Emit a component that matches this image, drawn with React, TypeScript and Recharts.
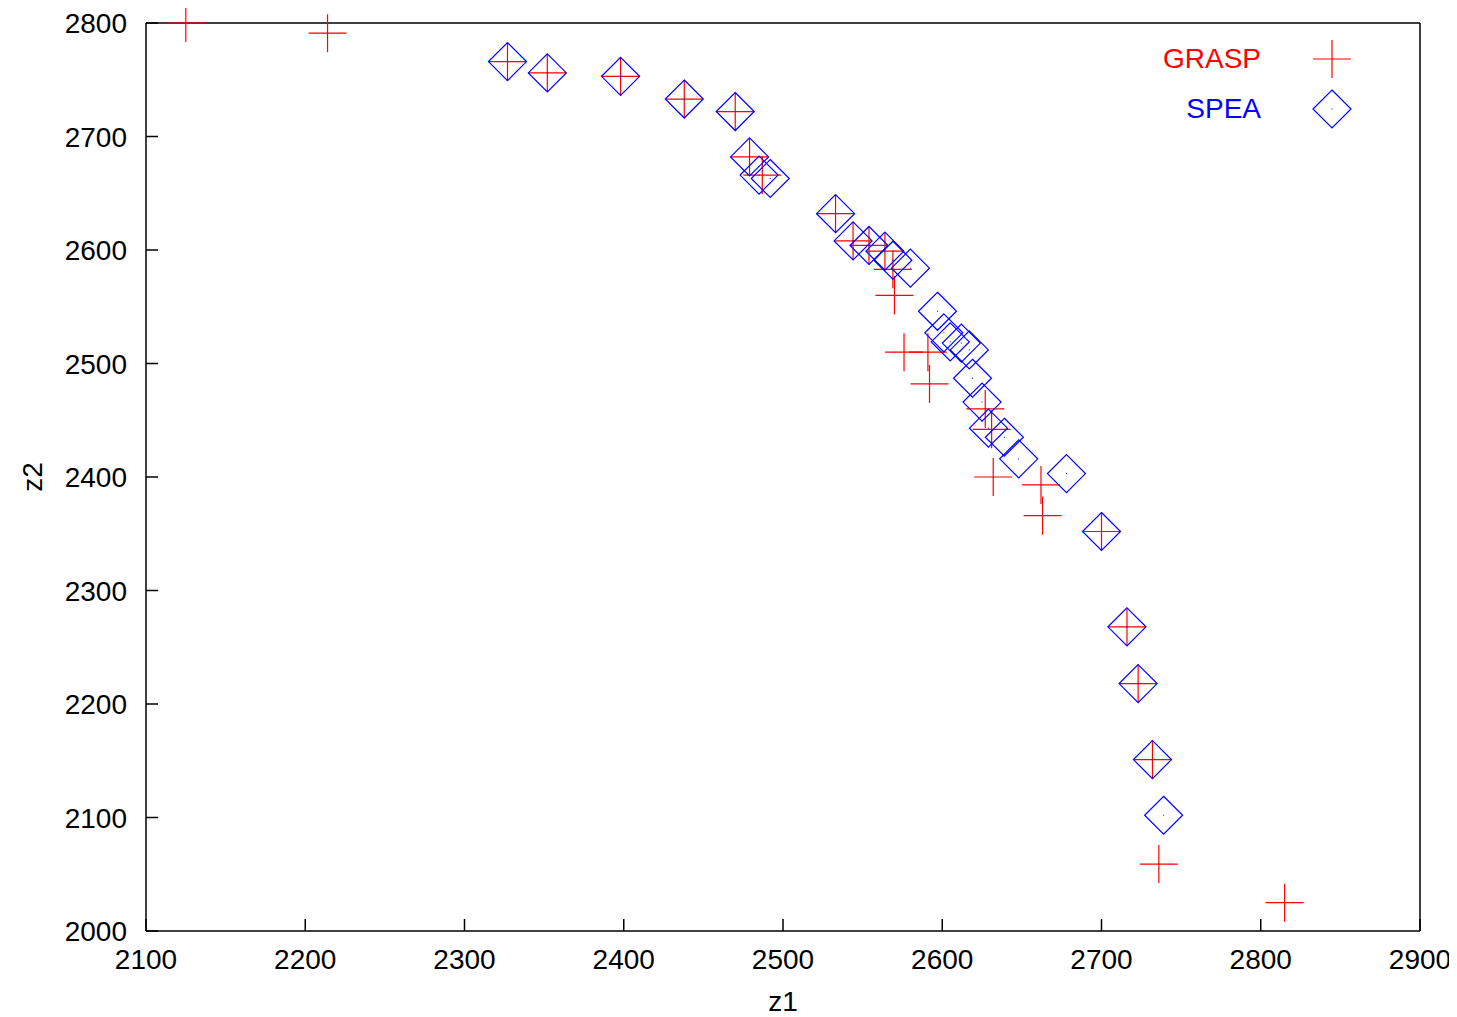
import React from "react";
import {
  ScatterChart,
  Scatter,
  XAxis,
  YAxis,
  Label,
} from "recharts";

const graspZ1 = [
  2125, 2214, 2327, 2352, 2398, 2438, 2470, 2479, 2487, 2533, 2544, 2554, 2564,
  2569, 2570, 2576, 2591, 2592, 2627, 2631, 2632, 2662, 2663, 2700, 2716, 2723,
  2732, 2736, 2815,
];
const graspZ2 = [
  2800, 2791, 2766, 2756, 2753, 2733, 2722, 2682, 2666, 2632, 2608, 2604, 2599,
  2583, 2560, 2510, 2510, 2482, 2460, 2442, 2400, 2393, 2366, 2352, 2268, 2218,
  2151, 2059, 2025,
];

const speaZ1 = [
  2327, 2352, 2398, 2438, 2470, 2479, 2485, 2492, 2533, 2544, 2554, 2564, 2569,
  2580, 2597, 2601, 2605, 2612, 2617, 2619, 2625, 2629, 2639, 2648, 2678, 2700,
  2716, 2723, 2732, 2739,
];
const speaZ2 = [
  2766, 2756, 2753, 2733, 2722, 2682, 2666, 2663, 2632, 2608, 2604, 2599, 2591,
  2584, 2546, 2527, 2519, 2518, 2512, 2487, 2466, 2443, 2435, 2416, 2403, 2352,
  2268, 2218, 2151, 2102,
];

const xTicks = [2100, 2200, 2300, 2400, 2500, 2600, 2700, 2800, 2900];
const yTicks = [2000, 2100, 2200, 2300, 2400, 2500, 2600, 2700, 2800];

const grasp = graspZ1.map((z1, i) => ({ z1, z2: graspZ2[i] }));
const spea = speaZ1.map((z1, i) => ({ z1, z2: speaZ2[i] }));

const FONT = "'Liberation Sans', Arial, sans-serif";
const FS = 28;
const TICK = 12;
const R = 19;

const Cross = (props: any) => {
  const { cx, cy } = props;
  return (
    <g>
      <line x1={cx - R} y1={cy} x2={cx + R} y2={cy} stroke="#ff0000" strokeWidth={1.2} />
      <line x1={cx} y1={cy - R} x2={cx} y2={cy + R} stroke="#ff0000" strokeWidth={1.2} />
    </g>
  );
};

const Diamond = (props: any) => {
  const { cx, cy } = props;
  return (
    <g>
      <polygon
        points={`${cx},${cy - R} ${cx + R},${cy} ${cx},${cy + R} ${cx - R},${cy}`}
        fill="none"
        stroke="#0000ff"
        strokeWidth={1.2}
      />
      <rect x={cx - 0.5} y={cy - 0.5} width={1} height={1} fill="#0000ff" />
    </g>
  );
};

const BottomTick = (props: any) => {
  const { x, y, payload } = props;
  return (
    <g>
      <line x1={x} y1={y} x2={x} y2={y - TICK} stroke="#000" strokeWidth={1.5} />
      <text x={x} y={y + 38} textAnchor="middle" fontSize={FS} fontFamily={FONT} fill="#000">
        {payload.value}
      </text>
    </g>
  );
};

const TopTick = (props: any) => {
  const { x, y } = props;
  return <line x1={x} y1={y} x2={x} y2={y + TICK} stroke="#000" strokeWidth={1.5} />;
};

const LeftTick = (props: any) => {
  const { x, y, payload } = props;
  return (
    <g>
      <line x1={x} y1={y} x2={x + TICK} y2={y} stroke="#000" strokeWidth={1.5} />
      <text x={x - 19} y={y + 10} textAnchor="end" fontSize={FS} fontFamily={FONT} fill="#000">
        {payload.value}
      </text>
    </g>
  );
};

const RightTick = (props: any) => {
  const { x, y } = props;
  return <line x1={x} y1={y} x2={x - TICK} y2={y} stroke="#000" strokeWidth={1.5} />;
};

const LegendBox = () => (
  <div
    style={{
      position: "absolute",
      top: 26,
      left: 1140,
      width: 240,
      fontFamily: FONT,
      fontSize: FS,
    }}
  >
    <div style={{ display: "flex", alignItems: "center", height: 50 }}>
      <span style={{ color: "#ff0000", width: 113, textAlign: "right" }}>GRASP</span>
      <svg width={120} height={50} style={{ display: "block" }}>
        <Cross cx={71} cy={25} />
      </svg>
    </div>
    <div style={{ display: "flex", alignItems: "center", height: 50 }}>
      <span style={{ color: "#0000ff", width: 113, textAlign: "right" }}>SPEA</span>
      <svg width={120} height={50} style={{ display: "block" }}>
        <Diamond cx={71} cy={25} />
      </svg>
    </div>
  </div>
);

const axisLine = { stroke: "#000", strokeWidth: 1.5 };

export default function App() {
  return (
    <div style={{ position: "relative", width: 1441, height: 1009, background: "#fff" }}>
      <style>{`.recharts-surface { overflow: visible; }`}</style>
      <ScatterChart
        width={1441}
        height={1009}
        margin={{ top: 14, right: 28, bottom: 85, left: 0 }}
      >
        <XAxis
          dataKey="z1"
          type="number"
          domain={[2100, 2900]}
          ticks={xTicks}
          height={1}
          tickSize={0}
          tickMargin={0}
          tickLine={false}
          axisLine={axisLine}
          tick={<BottomTick />}
          interval={0}
        >
          <Label
            content={(p: any) => {
              const vb = p.viewBox;
              return (
                <text
                  x={vb.x + vb.width / 2}
                  y={vb.y + 80}
                  textAnchor="middle"
                  fontSize={FS}
                  fontFamily={FONT}
                  fill="#000"
                >
                  z1
                </text>
              );
            }}
          />
        </XAxis>
        <XAxis
          xAxisId="top"
          orientation="top"
          type="number"
          domain={[2100, 2900]}
          ticks={xTicks}
          height={1}
          tickSize={0}
          tickMargin={0}
          tickLine={false}
          axisLine={axisLine}
          tick={<TopTick />}
          interval={0}
        />
        <YAxis
          dataKey="z2"
          type="number"
          domain={[2000, 2800]}
          ticks={yTicks}
          width={138}
          tickSize={0}
          tickMargin={0}
          tickLine={false}
          axisLine={axisLine}
          tick={<LeftTick />}
          interval={0}
        >
          <Label
            content={(p: any) => {
              const vb = p.viewBox;
              const cy = vb.y + vb.height / 2;
              return (
                <text
                  x={24}
                  y={cy}
                  transform={`rotate(-90, 24, ${cy})`}
                  textAnchor="middle"
                  dominantBaseline="central"
                  fontSize={FS}
                  fontFamily={FONT}
                  fill="#000"
                >
                  z2
                </text>
              );
            }}
          />
        </YAxis>
        <YAxis
          yAxisId="right"
          orientation="right"
          type="number"
          domain={[2000, 2800]}
          ticks={yTicks}
          width={1}
          tickSize={0}
          tickMargin={0}
          tickLine={false}
          axisLine={axisLine}
          tick={<RightTick />}
          interval={0}
        />
        <Scatter
          name="GRASP"
          data={grasp}
          shape={<Cross />}
          isAnimationActive={false}
        />
        <Scatter
          name="SPEA"
          data={spea}
          shape={<Diamond />}
          isAnimationActive={false}
        />
      </ScatterChart>
      <LegendBox />
    </div>
  );
}
